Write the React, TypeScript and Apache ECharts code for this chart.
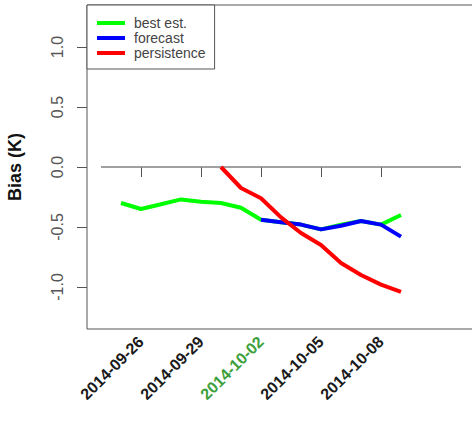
import React, { useEffect, useRef } from "react";
import * as echarts from "echarts";

const tickDates = ["2014-09-26", "2014-09-29", "2014-10-02", "2014-10-05", "2014-10-08"];
const highlightDate = "2014-10-02";
const yTicks = [-1.0, -0.5, 0.0, 0.5, 1.0];

const bestDates = [
  "2014-09-25", "2014-09-26", "2014-09-27", "2014-09-28", "2014-09-29",
  "2014-09-30", "2014-10-01", "2014-10-02", "2014-10-03", "2014-10-04",
  "2014-10-05", "2014-10-06", "2014-10-07", "2014-10-08", "2014-10-09",
];
const bestValues = [-0.3, -0.35, -0.31, -0.27, -0.29, -0.3, -0.34, -0.44, -0.46, -0.48, -0.52, -0.48, -0.45, -0.48, -0.4];

const forecastDates = [
  "2014-10-02", "2014-10-03", "2014-10-04", "2014-10-05",
  "2014-10-06", "2014-10-07", "2014-10-08", "2014-10-09",
];
const forecastValues = [-0.44, -0.46, -0.48, -0.52, -0.49, -0.45, -0.48, -0.58];

const persistenceDates = [
  "2014-09-30", "2014-10-01", "2014-10-02", "2014-10-03", "2014-10-04",
  "2014-10-05", "2014-10-06", "2014-10-07", "2014-10-08", "2014-10-09",
];
const persistenceValues = [0.0, -0.175, -0.26, -0.42, -0.55, -0.65, -0.8, -0.9, -0.98, -1.04];

const zeroLineDates = ["2014-09-24", "2014-10-12"];
const zeroLineValues = [0, 0];

const DAY = 86400000;
const t = (d: string) => Date.parse(d + "T00:00:00Z");
const fmt = (v: number) => new Date(v).toISOString().slice(0, 10);
const pairs = (ds: string[], vs: number[]) => ds.map((d, i) => [t(d), vs[i]]);

const FONT = "'Liberation Sans', Arial, Helvetica, sans-serif";

export default function App() {
  const ref = useRef<HTMLDivElement>(null);
  useEffect(() => {
    if (!ref.current) return;
    const chart = echarts.init(ref.current, undefined, { renderer: "svg" });
    const xMin = t("2014-09-26") - 2.7 * DAY;
    const xMax = xMin + 21 * DAY;
    const tickVals = tickDates.map(t);
    chart.setOption({
      animation: false,
      backgroundColor: "#fff",
      textStyle: { fontFamily: FONT },
      grid: {
        left: 87,
        top: 5,
        right: 0,
        bottom: 98,
        containLabel: false,
        outerBoundsMode: "none",
        show: true,
        borderColor: "#555",
        borderWidth: 1,
        backgroundColor: "transparent",
      },
      legend: {
        left: 87,
        top: 5,
        orient: "vertical",
        data: ["best est.", "forecast", "persistence"],
        borderColor: "#555",
        borderWidth: 1,
        borderRadius: 0,
        backgroundColor: "#fff",
        padding: [11, 9, 9, 10],
        itemWidth: 28,
        itemHeight: 4,
        itemGap: 1,
        icon: "rect",
        textStyle: { fontSize: 14, color: "#444", lineHeight: 14, fontFamily: FONT, padding: [0, 0, 0, 4] },
      },
      xAxis: {
        type: "value",
        min: xMin,
        max: xMax,
        axisLine: { show: false },
        splitLine: { show: false },
        axisTick: { show: true, customValues: tickVals, length: 10, lineStyle: { color: "#555", width: 1 } },
        axisLabel: {
          customValues: tickVals,
          rotate: 45,
          margin: 10,
          fontSize: 16,
          fontWeight: "bold",
          color: "#1a1a1a",
          fontFamily: FONT,
          formatter: (v: number) => {
            const s = fmt(v);
            return s === highlightDate ? `{g|${s}}` : s;
          },
          rich: {
            g: { color: "#3c9f3c", fontWeight: "bold", fontSize: 16, fontFamily: FONT },
          },
        },
      },
      yAxis: {
        type: "value",
        min: -1.35,
        max: 1.35,
        axisLine: { show: false },
        splitLine: { show: false },
        axisTick: { show: true, customValues: yTicks, length: 10, lineStyle: { color: "#555", width: 1 } },
        axisLabel: {
          customValues: yTicks,
          rotate: 90,
          margin: 22,
          fontSize: 16,
          color: "#555",
          fontFamily: FONT,
          formatter: (v: number) => v.toFixed(1),
        },
        name: "Bias (K)",
        nameLocation: "middle",
        nameRotate: 90,
        nameGap: 63,
        nameTextStyle: { fontSize: 18, fontWeight: "bold", color: "#111", fontFamily: FONT },
      },
      series: [
        {
          name: "zero",
          type: "line",
          data: pairs(zeroLineDates, zeroLineValues),
          showSymbol: false,
          silent: true,
          lineStyle: { color: "#808080", width: 1.5 },
          itemStyle: { color: "#808080" },
        },
        {
          name: "best est.",
          type: "line",
          data: pairs(bestDates, bestValues),
          showSymbol: false,
          lineStyle: { color: "#00ff00", width: 4 },
          itemStyle: { color: "#00ff00" },
        },
        {
          name: "forecast",
          type: "line",
          data: pairs(forecastDates, forecastValues),
          showSymbol: false,
          lineStyle: { color: "#0000ff", width: 4 },
          itemStyle: { color: "#0000ff" },
        },
        {
          name: "persistence",
          type: "line",
          data: pairs(persistenceDates, persistenceValues),
          showSymbol: false,
          lineStyle: { color: "#ff0000", width: 4 },
          itemStyle: { color: "#ff0000" },
        },
      ],
    });
    return () => chart.dispose();
  }, []);
  return (
    <div style={{ position: "fixed", left: 0, top: 0, width: 472, height: 427, overflow: "hidden", background: "#fff" }}>
      <div ref={ref} style={{ position: "absolute", left: 0, top: 0, width: 507, height: 427 }} />
    </div>
  );
}
